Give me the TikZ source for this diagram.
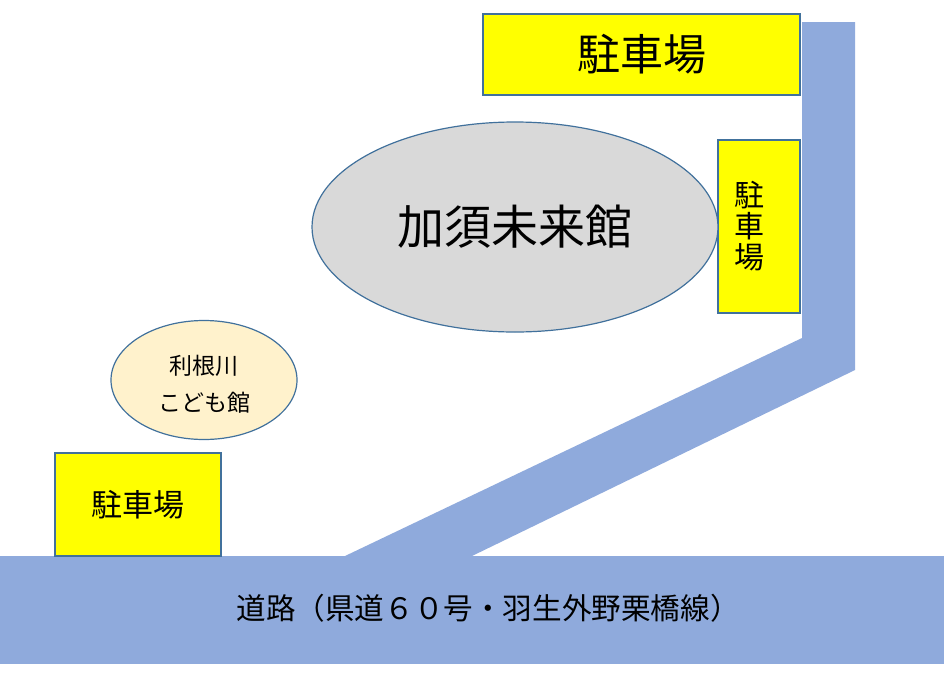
\documentclass[tikz,border=0pt]{standalone}
\usepackage{fontspec}
\setmainfont{Noto Sans CJK JP}
\usetikzlibrary{shapes.geometric}
\definecolor{roadblue}{HTML}{8FAADC}
\definecolor{edgeblue}{HTML}{41719C}
\definecolor{parkyellow}{HTML}{FFFF00}
\definecolor{hallgrey}{HTML}{D9D9D9}
\definecolor{kidscream}{HTML}{FFF2CC}
\begin{document}
\begin{tikzpicture}[x=1pt,y=-1pt,
  park/.style = {draw=edgeblue, line width=1.2pt, fill=parkyellow, inner sep=0pt, align=center},
  hall/.style = {draw=edgeblue, line width=1.2pt, ellipse, inner sep=0pt, align=center},
  road/.style = {fill=roadblue, inner sep=0pt}]
\useasboundingbox (0,0) rectangle (944,688);
% access road
\fill[roadblue] (802,22) -- (855,22) -- (855,370) -- (472,556) -- (345,556) -- (802,338) -- cycle;
\node[road, minimum width=944, minimum height=108] (road) at (472,610) {};
\node[font=\fontsize{29.6}{36}\selectfont] (roadname) at (488,608) {道路（県道６０号・羽生外野栗橋線）};
% parking
\node[park, minimum width=317, minimum height=81, font=\fontsize{43}{50}\selectfont] (parkN) at (641.5,54.5) {駐車場};
\node[park, minimum width=82, minimum height=173, font=\fontsize{30}{31}\selectfont] (parkE) at (759,226.5) {};
\node[font=\fontsize{30}{31}\selectfont, align=center] (parkEname) at (749,226.5) {駐\\車\\場};
\node[park, minimum width=166, minimum height=103, font=\fontsize{31}{36}\selectfont] (parkW) at (138,504.5) {駐車場};
% buildings
\node[hall, fill=hallgrey, minimum width=406, minimum height=210, font=\fontsize{47}{54}\selectfont] (mirai) at (515,227) {加須未来館};
\node[hall, fill=kidscream, minimum width=186, minimum height=119] (kodomo) at (204,380) {};
\node[font=\fontsize{23}{37}\selectfont, align=center] (kodomoname) at (204,384) {利根川\\こども館};
\end{tikzpicture}
\end{document}
